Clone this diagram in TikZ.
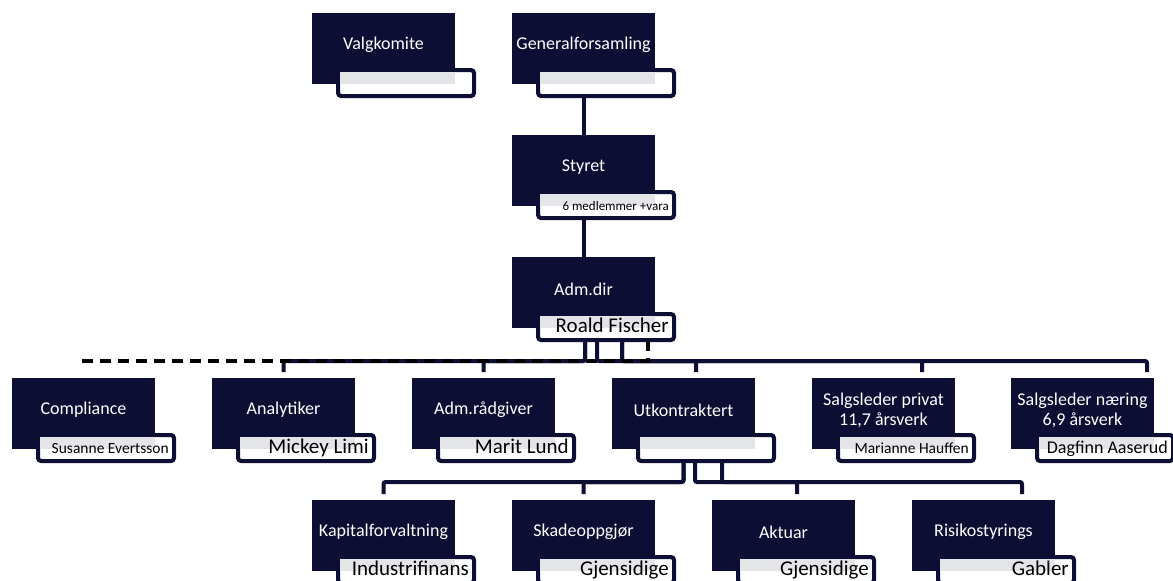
\documentclass[tikz,border=0pt]{standalone}
\usepackage{fontspec}
\setmainfont{Carlito}
\usetikzlibrary{calc,positioning}
\definecolor{orgnavy}{RGB}{12,14,52}
\definecolor{bandgray}{RGB}{228,229,233}
\tikzset{
    darkbox/.style={anchor=north west, fill=orgnavy, minimum width=143pt, minimum height=71pt, inner sep=0pt, outer sep=0pt},
    namebox/.style={anchor=north west, draw=orgnavy, fill=white, line width=4pt, rounded corners=3pt, minimum width=136pt, minimum height=26pt, inner sep=0pt, outer sep=0pt},
    titletext/.style={text=white, font=\fontsize{18}{20}\selectfont, align=center, inner sep=0pt},
    persontext/.style={anchor=base east, inner sep=0pt},
    link/.style={draw=orgnavy, line width=4pt, rounded corners=2pt},
    dashlink/.style={draw=black, line width=4pt, dash pattern=on 11pt off 7pt}
}
\newcommand{\orgunit}[6]{%
    \node[darkbox] (#1) at (#2,#3) {};
    \node[namebox] (#1-f) at (#2+26,#3+57) {};
    \fill[bandgray] (#2+28,#3+59) rectangle (#2+143,#3+71);
    \node[titletext] (#1-t) at (#2+71.5,#3+32) {#4};
    \node[persontext, font=\fontsize{#6}{#6}\selectfont] (#1-n) at (#2+157,#3+75) {#5};
}

\begin{document}
\begin{tikzpicture}[x=1pt, y=-1pt]
                        \useasboundingbox (0,0) rectangle (1173,581);
                        \clip (0,0) rectangle (1173,581);

                        \orgunit{valg}{312}{13}{Valgkomite}{}{18}
                        \orgunit{genf}{512}{13}{Generalforsamling}{}{18}
                        \orgunit{styret}{512}{135}{Styret}{6 medlemmer +vara}{13}
                        \orgunit{adm}{512}{257}{Adm.dir}{Roald Fischer}{21}

                        \orgunit{compl}{12}{378}{Compliance}{Susanne Evertsson}{15.5}
                        \orgunit{analyt}{212}{378}{Analytiker}{Mickey Limi}{21}
                        \orgunit{admr}{412}{378}{Adm.rådgiver}{Marit Lund}{21}
                        \orgunit{utk}{612}{378}{Utkontraktert}{}{18}
                        \orgunit{salgp}{812}{378}{Salgsleder privat\\11,7 årsverk}{Marianne Hauffen}{15.5}
                        \orgunit{salgn}{1011}{378}{Salgsleder næring\\6,9 årsverk}{Dagfinn Aaserud}{18}

                        \orgunit{kapital}{312}{500}{Kapitalforvaltning}{Industrifinans}{21}
                        \orgunit{skade}{512}{500}{Skadeoppgjør}{Gjensidige}{21}
                        \orgunit{aktuar}{712}{500}{Aktuar}{Gjensidige}{21}
                        \orgunit{risiko}{912}{500}{Risikostyrings}{Gabler}{21}

                        \draw[link] (genf-f.south -| genf.north) -- (styret.north);
                        \draw[link] (styret-f.south -| styret.north) -- (adm.north);

                        \draw[link] ($(adm-f.south -| adm.north)+(1.5,0)$) |- ($(analyt.north)+(0,-17)$) -- ($(analyt.north)+(0,-6)$);
                        \draw[link] ($(adm-f.south -| adm.north)+(1.5,0)$) |- ($(admr.north)+(0,-17)$) -- ($(admr.north)+(0,-6)$);
                        \draw[link] ($(adm-f.south -| adm.north)+(13.5,0)$) |- ($(utk.north)+(12.5,-17)$) -- ($(utk.north)+(12.5,-6)$);
                        \draw[link] ($(adm-f.south -| adm.north)+(38.5,0)$) |- ($(salgp.north)+(38.5,-17)$) -- ($(salgp.north)+(38.5,-6)$);
                        \draw[link] ($(adm-f.south -| adm.north)+(38.5,0)$) |- ($(salgn.north)+(64.5,-17)$) -- ($(salgn.north)+(64.5,-6)$);
                        \draw[dashlink] ($(adm-f.south)+(42,0)$) |- ($(compl.north)+(0,-17)$) -- ($(compl.north)+(0,-9)$);

                        \draw[link] (utk-f.south -| utk.north) |- ($(kapital.north)+(0,-18)$) -- ($(kapital.north)+(0,-6)$);
                        \draw[link] (utk-f.south -| utk.north) |- ($(skade.north)+(0,-18)$) -- ($(skade.north)+(0,-6)$);
                        \draw[link] ($(utk-f.south -| utk.north)+(11.5,0)$) |- ($(aktuar.north)+(13.5,-18)$) -- ($(aktuar.north)+(13.5,-6)$);
                        \draw[link] ($(utk-f.south -| utk.north)+(38.5,0)$) |- ($(risiko.north)+(38.5,-18)$) -- ($(risiko.north)+(38.5,-6)$);
                    \end{tikzpicture}
\end{document}
